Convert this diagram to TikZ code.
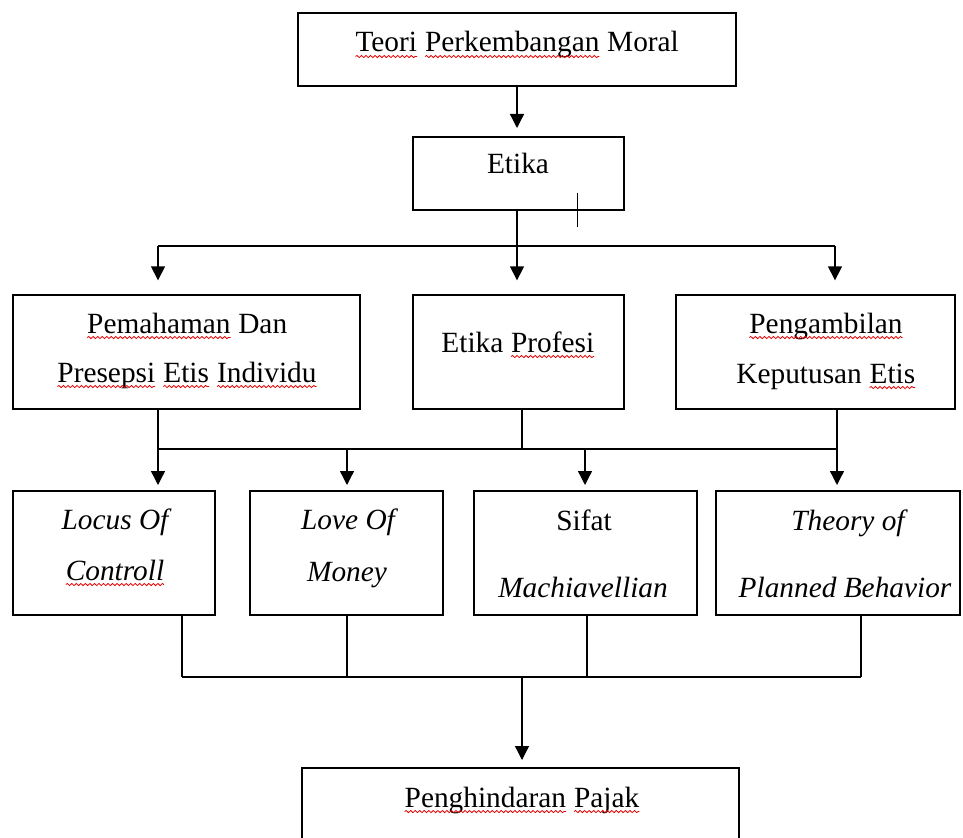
\documentclass[tikz,border=0pt]{standalone}
\usepackage{fontspec}
\setmainfont{Liberation Serif}
\usetikzlibrary{arrows.meta,fit,decorations.pathmorphing}
\newcommand\sperr[1]{\tikz[baseline=(sw.base)]{\node[inner sep=0pt,outer sep=0pt,anchor=base](sw) at (0,0){#1};\draw[red!90!black,line width=0.6pt,decorate,decoration={snake,amplitude=0.8pt,segment length=3.4pt}]([yshift=-3.4pt]sw.base west)--([yshift=-3.4pt]sw.base east);}}
\begin{document}
\begin{tikzpicture}[x=0.75pt,y=-0.75pt,
  box/.style={draw,line width=1.6pt,inner sep=0pt,outer sep=0pt},
  txt/.style={anchor=base,inner sep=0pt,outer sep=0pt,font=\fontsize{22}{26}\selectfont},
  conn/.style={line width=0.9pt},
  bar/.style={line width=1.5pt},
  arr/.style={line width=1pt,-{Triangle[length=10.5pt,width=10.5pt]}}]
\useasboundingbox (0,0) rectangle (963,838);
\fill[white] (0,0) rectangle (963,838);

% boxes
\node[box,fit={(298,13)(736,86)}] (top) {};
\node[box,fit={(413,137)(624,210)}] (eti) {};
\node[box,fit={(13,295)(360,409)}] (pem) {};
\node[box,fit={(413,295)(624,409)}] (pro) {};
\node[box,fit={(676,295)(955,409)}] (pen) {};
\node[box,fit={(13,491)(215,615)}] (loc) {};
\node[box,fit={(250,491)(443,615)}] (lov) {};
\node[box,fit={(474,491)(697,615)}] (sif) {};
\node[box,fit={(716,491)(960,615)}] (the) {};
\node[box,fit={(302,768)(739,852)}] (pjk) {};

% texts
\node[txt] (t1) at (517,52) {\sperr{Teori} \sperr{Perkembangan} Moral};
\node[txt] (t2) at (518,173) {Etika};
\node[txt] (t3) at (187,333) {\sperr{Pemahaman} Dan};
\node[txt] (t4) at (187,382) {\sperr{Presepsi} \sperr{Etis} \sperr{Individu}};
\node[txt] (t5) at (518,352) {Etika \sperr{Profesi}};
\node[txt] (t6) at (826,333) {\sperr{Pengambilan}};
\node[txt] (t7) at (826,383) {Keputusan \sperr{Etis}};
\node[txt] (t8) at (115,529) {\itshape Locus Of};
\node[txt] (t9) at (115,580) {\itshape\sperr{Controll}};
\node[txt] (t10) at (348,529) {\itshape Love Of};
\node[txt] (t11) at (347,581) {\itshape Money};
\node[txt] (t12) at (584,530) {Sifat};
\node[txt] (t13) at (583,597) {\itshape Machiavellian};
\node[txt] (t14) at (848,530) {\itshape Theory of};
\node[txt] (t15) at (845,597) {\itshape Planned Behavior};
\node[txt] (t16) at (522,807) {\sperr{Penghindaran} \sperr{Pajak}};

% cursor mark
\coordinate (c1) at (577,193);
\coordinate (c2) at (577,227);
\draw[line width=0.7pt] (c1) -- (c2);

% junction coordinates
\coordinate (j1) at (517,246);
\coordinate (jl1) at (158,246);
\coordinate (jr1) at (835,246);
\coordinate (jl2) at (158,449);
\coordinate (jm2) at (522,449);
\coordinate (jr2) at (837,449);
\coordinate (ja2) at (347,449);
\coordinate (jb2) at (585,449);
\coordinate (b1) at (182,677);
\coordinate (b2) at (347,677);
\coordinate (b3) at (587,677);
\coordinate (b4) at (861,677);
\coordinate (bm) at (522,677);

% top -> etika
\draw[arr,shorten >=6.75pt] (top.south) -- (top.south |- eti.north);

% etika -> row 2
\draw[conn] (j1 |- eti.south) -- (j1);
\draw[bar] (jl1) -- (jr1);
\draw[arr,shorten >=11pt] (jl1) -- (jl1 |- pem.north);
\draw[arr,shorten >=11pt] (j1) -- (j1 |- pro.north);
\draw[arr,shorten >=11pt] (jr1) -- (jr1 |- pen.north);

% row 2 -> row 3
\draw[conn] (jl2 |- pem.south) -- (jl2);
\draw[conn] (jm2 |- pro.south) -- (jm2);
\draw[conn] (jr2 |- pen.south) -- (jr2);
\draw[bar] (jl2) -- (jr2);
\draw[arr,shorten >=4.5pt] (jl2) -- (jl2 |- loc.north);
\draw[arr,shorten >=4.5pt] (ja2) -- (ja2 |- lov.north);
\draw[arr,shorten >=4.5pt] (jb2) -- (jb2 |- sif.north);
\draw[arr,shorten >=4.5pt] (jr2) -- (jr2 |- the.north);

% row 3 -> bottom
\draw[conn] (b1 |- loc.south) -- (b1);
\draw[conn] (b2 |- lov.south) -- (b2);
\draw[conn] (b3 |- sif.south) -- (b3);
\draw[conn] (b4 |- the.south) -- (b4);
\draw[bar] (b1) -- (b4);
\draw[arr,shorten >=6pt] (bm) -- (bm |- pjk.north);
\end{tikzpicture}
\end{document}
